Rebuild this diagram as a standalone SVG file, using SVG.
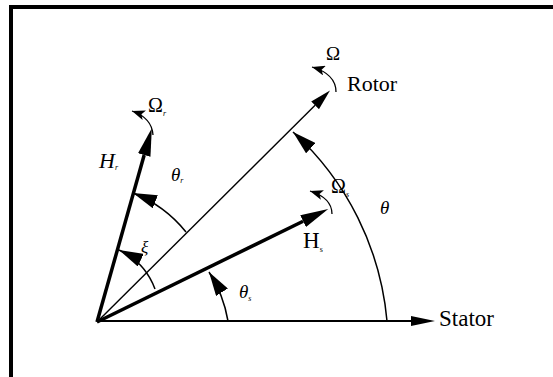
<svg xmlns="http://www.w3.org/2000/svg" width="553" height="377" viewBox="0 0 553 377">
<style>
text{font-family:"Liberation Serif","Times New Roman","DejaVu Serif",serif;fill:#000}
.i{font-style:italic}
.arc{fill:none;stroke:#000;stroke-width:1.5}
.sm{fill:none;stroke:#000;stroke-width:1.3}
</style>
<defs>
<marker id="ahStator" markerUnits="userSpaceOnUse" markerWidth="24" markerHeight="10" refX="0" refY="5" orient="auto" viewBox="0 0 24 10"><path d="M0,0 L24,5 L0,10 z" fill="#000"/></marker>
<marker id="ahRotor" markerUnits="userSpaceOnUse" markerWidth="21" markerHeight="11" refX="0" refY="5.5" orient="auto" viewBox="0 0 21 11"><path d="M0,0 L21,5.5 L0,11 z" fill="#000"/></marker>
<marker id="ahThick" markerUnits="userSpaceOnUse" markerWidth="28" markerHeight="13" refX="0" refY="6.5" orient="auto" viewBox="0 0 28 13"><path d="M0,0 L28,6.5 L0,13 z" fill="#000"/></marker>
<marker id="ahArc" markerUnits="userSpaceOnUse" markerWidth="24" markerHeight="14" refX="24" refY="7" orient="auto" viewBox="0 0 24 14"><path d="M0,0 L24,7 L0,14 z" fill="#000"/></marker>
<marker id="ahSmall" markerUnits="userSpaceOnUse" markerWidth="13" markerHeight="10" refX="13" refY="5" orient="auto" viewBox="0 0 13 10"><path d="M0,0 L13,5 L0,10 L3,5 z" fill="#000"/></marker>
</defs>
<rect width="553" height="377" fill="#fff"/>
<g id="frame">
<rect x="9" y="5" width="544" height="4" fill="#000"/>
<rect x="9" y="5" width="4" height="372" fill="#000"/>
</g>
<g id="connectors">
<line x1="97" y1="321" x2="411" y2="321" stroke="#000" stroke-width="2" marker-end="url(#ahStator)"/>
<line x1="97" y1="322" x2="315.1" y2="105.3" stroke="#000" stroke-width="1.4" marker-end="url(#ahRotor)"/>
<line x1="97" y1="322" x2="303.1" y2="221.2" stroke="#000" stroke-width="3.5" marker-end="url(#ahThick)"/>
<line x1="97" y1="322" x2="144.2" y2="155.1" stroke="#000" stroke-width="3.5" marker-end="url(#ahThick)"/>
<path class="arc" d="M228,321 A131,131 0 0,0 209,272" marker-end="url(#ahArc)"/>
<path class="arc" d="M155,289 A70,70 0 0,0 119,250" marker-end="url(#ahArc)"/>
<path class="arc" d="M186,232 A128,128 0 0,0 133,193" marker-end="url(#ahArc)"/>
<path class="arc" d="M387,321 A290,290 0 0,0 293,132" marker-end="url(#ahArc)"/>
<path class="sm" d="M336,92 Q336,74 312,67" marker-end="url(#ahSmall)"/>
<path class="sm" d="M153,135 Q152,118 132,111" marker-end="url(#ahSmall)"/>
<path class="sm" d="M332,214 Q332,198 310,191" marker-end="url(#ahSmall)"/>
</g>
<g id="stator"><text x="439" y="326" font-size="23">Stator</text></g>
<g id="rotor"><text x="347" y="91" font-size="22">Rotor</text>
<text x="333" y="60" font-size="19" text-anchor="middle">Ω</text></g>
<g id="Hr"><text class="i" x="99" y="168" font-size="22">H<tspan font-size="8" dy="2">r</tspan></text>
<text x="148" y="112" font-size="20">Ω<tspan class="i" font-size="8" dy="4">r</tspan></text></g>
<g id="Hs"><text x="303" y="248" font-size="23">H<tspan font-size="8" dy="4">s</tspan></text>
<text x="331" y="193" font-size="20">Ω<tspan class="i" font-size="8" dy="4">s</tspan></text></g>
<g id="angles">
<text class="i" x="171" y="181" font-size="19">θ<tspan font-size="8" dy="2">r</tspan></text>
<text class="i" x="239" y="298" font-size="19">θ<tspan font-size="8" dy="3">s</tspan></text>
<text class="i" x="380" y="214" font-size="19">θ</text>
<text class="i" x="141" y="253" font-size="17">ξ</text>
</g>
</svg>
